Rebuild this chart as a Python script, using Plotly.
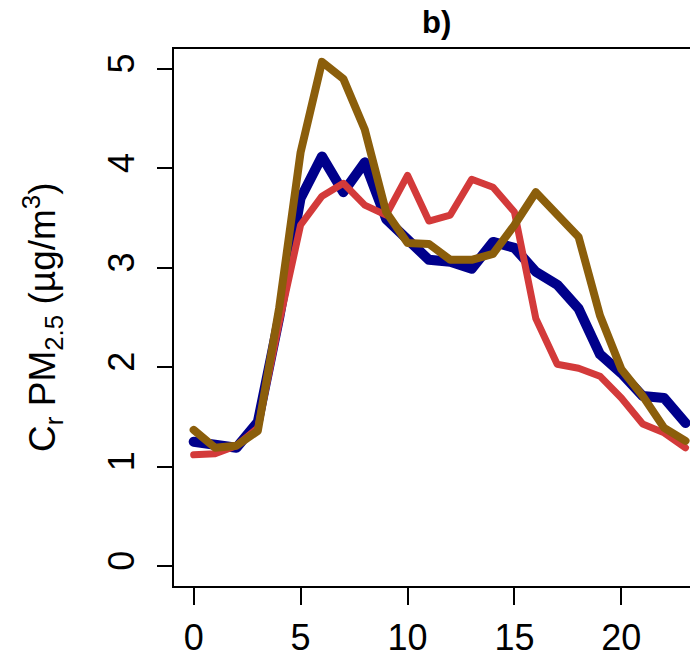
import plotly.graph_objects as go

hours = list(range(24))
blue_vals = [1.25, 1.22, 1.19, 1.45, 2.50, 3.70, 4.12, 3.76, 4.06, 3.49, 3.28, 3.08,
             3.06, 2.99, 3.26, 3.20, 2.96, 2.83, 2.59, 2.13, 1.94, 1.71, 1.69, 1.44]
red_vals = [1.12, 1.13, 1.21, 1.39, 2.45, 3.43, 3.72, 3.85, 3.63, 3.53, 3.93, 3.47,
            3.53, 3.89, 3.81, 3.56, 2.49, 2.03, 1.99, 1.91, 1.69, 1.43, 1.34, 1.19]
brown_vals = [1.37, 1.19, 1.21, 1.36, 2.60, 4.16, 5.07, 4.90, 4.39, 3.56, 3.25, 3.24,
              3.08, 3.08, 3.14, 3.43, 3.76, 3.53, 3.31, 2.52, 1.98, 1.71, 1.39, 1.26]
x_ticks = [0, 5, 10, 15, 20]
y_ticks = [0, 1, 2, 3, 4, 5]

FONT = "Liberation Sans, Arial, sans-serif"

fig = go.Figure()
for vals, col, w in [(blue_vals, "#00008B", 10), (red_vals, "#D33A3A", 7), (brown_vals, "#8B5E0B", 8)]:
    fig.add_trace(go.Scatter(x=hours, y=vals, mode="lines",
                             line=dict(color=col, width=w), showlegend=False,
                             hoverinfo="skip"))

fig.update_layout(
    width=690, height=658,
    margin=dict(l=174, r=0, t=49, b=72, autoexpand=False),
    plot_bgcolor="white", paper_bgcolor="white",
    font=dict(family=FONT, color="black", size=36),
    xaxis=dict(range=[-0.92, 23.21], tickvals=x_ticks, ticks="outside", ticklen=17,
               tickwidth=1.5, tickcolor="black", showgrid=False, zeroline=False,
               showline=True, linecolor="black", linewidth=1.5, mirror=True,
               tickfont=dict(size=36), ticklabelstandoff=2, automargin=False),
    yaxis=dict(range=[-0.2, 5.2], tickvals=y_ticks, ticks="outside", ticklen=15,
               tickwidth=1.5, tickcolor="black", showgrid=False, zeroline=False,
               showline=True, linecolor="black", linewidth=1.5, mirror=False,
               tickangle=-90, tickfont=dict(size=36), ticklabelstandoff=9,
               automargin=False),
    annotations=[
        dict(text="<b>b)</b>", xref="paper", yref="paper", x=0.508, y=1.05,
             xanchor="center", yanchor="middle", showarrow=False,
             font=dict(size=31, family=FONT)),
        dict(text="C<sub>r</sub> PM<sub>2.5</sub> (µg/m<sup>3</sup>)", xref="paper", yref="paper",
             x=-0.255, y=0.5, xanchor="center", yanchor="middle", textangle=-90,
             showarrow=False, font=dict(size=37, family=FONT)),
    ],
)

post = """
document.querySelectorAll('.scatterlayer path.js-line').forEach(function(p){
  p.style.strokeLinejoin='round'; p.style.strokeLinecap='round';
});
"""
fig.write_html("out.html", post_script=post)
